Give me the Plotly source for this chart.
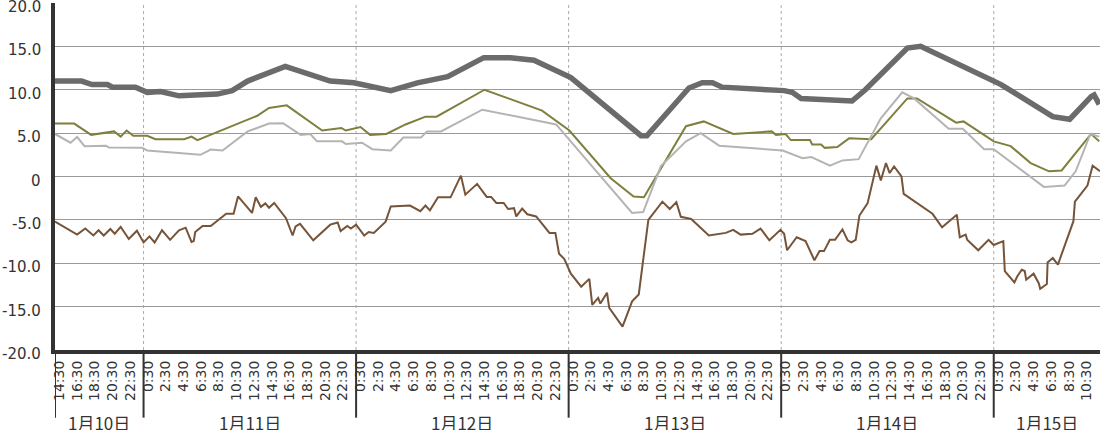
import plotly.graph_objects as go
import pandas as pd

PREFIX = "2025-01-"

# Series A: thick dark gray
A_time = ["10 14:00","10 17:00","10 18:10","10 19:55","10 20:30","10 23:05","11 00:25","11 01:55","11 04:00",
          "11 08:20","11 10:00","11 11:45","11 16:00","11 20:00","11 21:05","11 23:45","12 03:55","12 06:55",
          "12 10:20","12 14:25","12 17:25","12 20:05","13 00:15","13 08:10","13 08:50","13 13:35","13 15:05",
          "13 16:15","13 17:20","14 00:20","14 01:15","14 02:15","14 04:50","14 08:00","14 09:30","14 14:15",
          "14 15:45","15 00:50","15 06:40","15 08:35","15 11:00","15 11:20","15 11:55"]
A_val = [11.0,11.0,10.6,10.6,10.3,10.3,9.7,9.8,9.3,
         9.5,9.9,11.0,12.7,11.4,11.0,10.8,9.9,10.8,
         11.5,13.7,13.7,13.4,11.4,4.7,4.7,10.2,10.8,
         10.8,10.3,9.9,9.7,9.0,8.8,8.7,10.0,14.8,
         15.0,10.6,6.9,6.6,9.2,9.4,8.3]

# Series B: olive
B_time = ["10 14:00","10 16:10","10 18:05","10 20:40","10 21:25","10 22:05","10 22:50","11 00:25","11 01:20",
          "11 04:35","11 05:25","11 06:05","11 12:50","11 14:10","11 16:10","11 20:10","11 22:20","11 22:50",
          "12 00:30","12 01:35","12 03:25","12 05:35","12 07:50","12 09:05","12 14:30","12 21:00","13 00:05",
          "13 04:45","13 07:20","13 08:30","13 13:15","13 15:15","13 18:35","13 22:55","13 23:25","14 00:30",
          "14 01:05","14 03:15","14 03:30","14 04:30","14 04:55","14 06:20","14 07:40","14 10:10","14 14:15",
          "14 15:20","14 19:45","14 20:35","15 00:00","15 01:55","15 04:10","15 06:15","15 07:40","15 11:00",
          "15 11:55"]
B_val = [6.1,6.1,4.8,5.2,4.6,5.3,4.7,4.7,4.3,
         4.3,4.6,4.2,7.0,7.9,8.2,5.3,5.6,5.3,
         5.7,4.8,4.9,6.0,6.9,6.9,10.0,7.6,5.3,
         -0.2,-2.3,-2.4,5.8,6.35,4.9,5.2,4.8,4.9,
         4.2,4.2,3.7,3.7,3.3,3.4,4.4,4.3,9.0,
         9.0,6.2,6.35,4.05,3.5,1.55,0.6,0.7,4.9,
         4.05]

# Series C: light gray
C_time = ["10 14:00","10 15:45","10 16:30","10 17:20","10 19:45","10 20:05","10 23:50","11 00:25","11 06:25",
          "11 07:35","11 08:55","11 11:45","11 14:10","11 15:45","11 17:45","11 18:50","11 19:35","11 22:25",
          "11 22:50","12 00:40","12 01:50","12 03:55","12 05:20","12 07:20","12 08:00","12 09:35","12 14:15",
          "12 20:50","12 22:35","13 07:10","13 08:25","13 10:25","13 13:15","13 14:55","13 17:00","14 00:10",
          "14 02:25","14 03:25","14 05:30","14 06:55","14 08:45","14 11:15","14 13:40","14 15:00","14 18:55",
          "14 20:30","14 22:55","15 00:00","15 05:40","15 08:00","15 09:15","15 10:55","15 11:55"]
C_val = [4.9,3.9,4.55,3.5,3.55,3.35,3.3,3.0,2.5,
         3.1,3.0,5.2,6.1,6.15,4.8,4.9,4.05,4.05,
         3.75,3.9,3.15,3.0,4.5,4.5,5.2,5.2,7.7,
         6.35,6.0,-4.2,-4.1,1.2,4.05,5.0,3.55,3.0,
         2.1,2.25,1.25,1.85,2.0,6.7,9.7,9.0,5.5,
         5.5,3.15,3.15,-1.2,-1.05,0.6,4.9,4.6]

# Series D: brown
D_time = ["10 14:00","10 16:30","10 17:25","10 18:20","10 18:55","10 19:30","10 20:15","10 20:45","10 21:25",
          "10 22:20","10 23:15","11 00:00","11 00:40","11 01:15","11 02:05","11 03:00","11 04:00","11 04:45",
          "11 05:25","11 05:40","11 05:50","11 06:40","11 07:35","11 09:20","11 10:10","11 10:40","11 12:15",
          "11 12:40","11 13:15","11 13:45","11 14:10","11 14:45","11 16:05","11 16:50","11 17:10","11 17:40",
          "11 19:10","11 21:05","11 21:55","11 22:15","11 23:00","11 23:25","12 00:00","12 00:55","12 01:25",
          "12 02:00","12 03:20","12 03:55","12 06:05","12 07:15","12 07:50","12 08:20","12 09:15","12 10:40",
          "12 11:50","12 12:20","12 13:40","12 14:45","12 15:15","12 15:50","12 16:40","12 17:10","12 17:50",
          "12 18:05","12 18:45","12 19:20","12 20:20","12 21:50","12 22:30","12 22:55","12 23:30","13 00:15",
          "13 01:25","13 02:20","13 02:40","13 03:20","13 03:35","13 04:20","13 04:35","13 06:05","13 07:10",
          "13 07:55","13 09:00","13 10:35","13 11:25","13 12:10","13 12:40","13 13:50","13 15:50","13 17:45",
          "13 18:35","13 19:25","13 20:45","13 21:40","13 22:40","13 23:55","14 00:20","14 00:40","14 01:45",
          "14 02:45","14 03:45","14 04:20","14 04:50","14 05:30","14 06:05","14 06:55","14 07:30","14 07:55",
          "14 08:25","14 08:50","14 09:45","14 10:15","14 10:45","14 11:15","14 11:50","14 12:15","14 12:45",
          "14 13:35","14 13:50","14 17:05","14 18:10","14 19:50","14 20:10","14 20:50","14 21:00","14 22:15",
          "14 23:25","15 00:00","15 01:05","15 01:15","15 02:20","15 02:40","15 03:10","15 03:30","15 03:40",
          "15 04:30","15 05:05","15 05:15","15 06:00","15 06:05","15 06:40","15 07:15","15 09:00","15 09:10",
          "15 10:35","15 11:10","15 12:00"]
D_val = [-5.2,-6.7,-6.0,-6.8,-6.2,-6.8,-6.05,-6.6,-5.8,
         -7.2,-6.25,-7.6,-6.9,-7.6,-6.2,-7.3,-6.2,-5.9,
         -7.55,-7.45,-6.4,-5.7,-5.7,-4.3,-4.3,-2.3,-4.2,
         -2.4,-3.5,-3.1,-3.6,-3.05,-4.8,-6.8,-5.75,-5.45,
         -7.35,-5.55,-5.3,-6.3,-5.7,-6.0,-5.55,-6.8,-6.4,
         -6.5,-5.2,-3.45,-3.35,-4.0,-3.35,-3.9,-2.4,-2.4,
         0.1,-2.1,-0.85,-2.35,-2.35,-3.05,-3.05,-3.75,-3.65,
         -4.6,-3.7,-4.35,-4.6,-6.5,-6.5,-8.9,-9.5,-11.2,
         -12.7,-11.8,-14.8,-14.0,-14.65,-13.4,-15.15,-17.3,-14.4,
         -13.6,-5.0,-2.9,-3.75,-2.95,-4.65,-4.9,-6.8,-6.5,
         -6.15,-6.7,-6.6,-6.0,-7.35,-6.15,-6.6,-8.5,-7.0,
         -7.45,-9.65,-8.6,-8.6,-7.3,-7.3,-6.1,-7.35,-7.6,
         -7.3,-4.5,-3.1,-0.75,1.25,-0.45,1.55,0.4,1.15,
         0.0,-2.0,-4.3,-5.85,-4.4,-7.0,-6.7,-7.3,-8.5,
         -7.3,-7.9,-7.45,-10.9,-12.2,-11.5,-10.75,-10.9,-11.9,
         -11.2,-12.3,-12.95,-12.4,-9.9,-9.4,-10.15,-5.15,-2.9,
         -1.05,1.25,0.6]

DAYS = ["10", "11", "12", "13", "14", "15"]
DAY_LABELS = ["1月10日", "1月11日", "1月12日", "1月13日", "1月14日", "1月15日"]
TICK_HOURS = ["0:30","2:30","4:30","6:30","8:30","10:30","12:30","14:30","16:30","18:30","20:30","22:30"]
Y_TICKS = [-20, -15, -10, -5, 0, 5, 10, 15, 20]
Y_TEXT = ["-20.0", "-15.0", "-10.0", "-5.0", "0", "5.0", "10.0", "15.0", "20.0"]

X_START = PREFIX + "10 14:00"
X_END = PREFIX + "15 12:00"


def ts(lst):
    return pd.to_datetime([PREFIX + t for t in lst])


fig = go.Figure()
fig.add_trace(go.Scatter(x=ts(A_time), y=A_val, mode="lines",
                         line=dict(color="#6b6b6b", width=5.5), hoverinfo="skip"))
fig.add_trace(go.Scatter(x=ts(B_time), y=B_val, mode="lines",
                         line=dict(color="#7f7f3e", width=2), hoverinfo="skip"))
fig.add_trace(go.Scatter(x=ts(C_time), y=C_val, mode="lines",
                         line=dict(color="#b4b4b4", width=2), hoverinfo="skip"))
fig.add_trace(go.Scatter(x=ts(D_time), y=D_val, mode="lines",
                         line=dict(color="#765439", width=2), hoverinfo="skip"))

# tick positions / labels
tickvals, ticktext = [], []
start = pd.Timestamp(X_START)
end = pd.Timestamp(X_END)
for d in DAYS:
    for h in TICK_HOURS:
        t = pd.Timestamp(PREFIX + d + " " + h.zfill(5))
        if start <= t <= end:
            tickvals.append(t)
            ticktext.append(h)

shapes = []
annotations = []
bounds = [start] + [pd.Timestamp(PREFIX + d + " 00:00") for d in DAYS[1:]] + [end]
for i, d in enumerate(DAYS):
    b = bounds[i]
    if i > 0:
        # dotted gridline in plot
        shapes.append(dict(type="line", xref="x", yref="paper", x0=b, x1=b, y0=0, y1=1,
                           line=dict(color="#aaaaaa", width=1, dash="dot"), layer="below"))
    # separator below axis
    shapes.append(dict(type="line", xref="x", yref="paper", x0=b, x1=b, y0=0, y1=-0.195,
                       line=dict(color="#333333", width=2)))
    mid = bounds[i] + (bounds[i + 1] - bounds[i]) / 2
    annotations.append(dict(x=mid, xref="x", y=-0.166, yref="paper", yanchor="top",
                            text=DAY_LABELS[i], showarrow=False,
                            font=dict(family="Noto Sans CJK JP", size=17, color="#333333")))

# y-axis labels (slightly below their gridlines, as in the reference)
for v, txt in zip(Y_TICKS, Y_TEXT):
    annotations.append(dict(x=0, xref="paper", y=v, yref="y", xanchor="right", yanchor="middle",
                            xshift=-12, yshift=-4, text=txt, showarrow=False,
                            font=dict(family="DejaVu Sans", size=15, color="#333333")))

fig.update_layout(
    width=1100, height=430,
    margin=dict(l=55, r=0, t=3, b=80, autoexpand=False),
    paper_bgcolor="white", plot_bgcolor="white",
    showlegend=False,
    shapes=shapes, annotations=annotations,
    font=dict(family="DejaVu Sans", color="#333333"),
)
fig.update_xaxes(type="date", range=[start, end], tickvals=tickvals, ticktext=ticktext,
                 tickangle=-90, tickfont=dict(family="DejaVu Sans", size=14, color="#333333"),
                 showgrid=False, zeroline=False, showline=True, linecolor="#333333", linewidth=4,
                 ticks="", ticklabelstandoff=1, automargin=False, ticklabeloverflow="allow")
fig.update_yaxes(range=[-20, 20], tickvals=Y_TICKS, showticklabels=False,
                 showgrid=True, gridcolor="#999999", gridwidth=1, zeroline=False,
                 showline=True, linecolor="#333333", linewidth=4, ticks="",
                 automargin=False)

fig.write_html("out.html",
               config={"displayModeBar": False, "staticPlot": True},
               post_script="document.body.style.margin='0';document.body.style.padding='0';"
                           "document.body.style.overflow='hidden';")
